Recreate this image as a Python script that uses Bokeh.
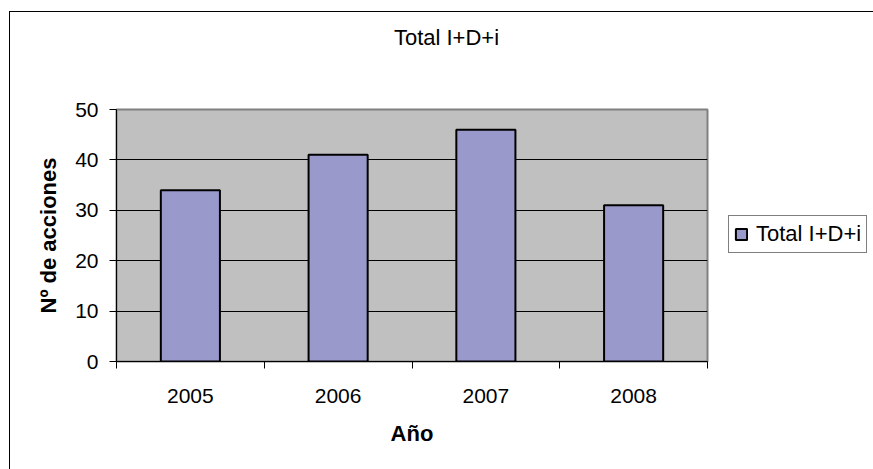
from bokeh.plotting import figure
from bokeh.models import (Range1d, FixedTicker, Legend, LegendItem, LinearAxis)
from bokeh.embed import file_html
from bokeh.resources import INLINE

# ---- data ----
categories = ["2005", "2006", "2007", "2008"]
values = [34, 41, 46, 31]
series_name = "Total I+D+i"
title_text = "Total I+D+i"
y_ticks = [0, 10, 20, 30, 40, 50]
x_label = "Año"
y_label = "Nº de acciones"

FONT = "Liberation Sans"
BAR_COLOR = "#9999CC"

xs = [i + 0.5 for i in range(len(categories))]
bounds = [float(i) for i in range(len(categories) + 1)]

p = figure(frame_width=591, frame_height=252, output_backend="svg", toolbar_location=None,
           x_range=Range1d(0, len(categories)), y_range=Range1d(0, 50),
           min_border_left=116, min_border_right=166, min_border_top=109,
           min_border_bottom=108)
# chart-area border (left and top edges, as in the reference)
p.styles = {"background": "linear-gradient(#000,#000) 9px 11px / 100% 1px no-repeat, "
                          "linear-gradient(#000,#000) 9px 11px / 1px 100% no-repeat"}

p.background_fill_color = "#C0C0C0"
p.border_fill_alpha = 0
p.outline_line_color = "#808080"
p.outline_line_width = 2

r = p.vbar(x=xs, top=values, width=0.4, fill_color=BAR_COLOR,
           line_color="black", line_width=2)

# grid
p.xgrid.grid_line_color = None
p.ygrid.ticker = FixedTicker(ticks=y_ticks)
p.ygrid.grid_line_color = "black"
p.ygrid.grid_line_width = 1

# y axis
ya = p.yaxis[0]
ya.ticker = FixedTicker(ticks=y_ticks)
ya.axis_line_color = "black"
ya.major_tick_out = 7
ya.major_tick_in = 0
ya.minor_tick_line_color = None
ya.major_label_text_font = FONT
ya.major_label_text_font_size = "21px"
ya.major_label_text_color = "black"
ya.major_label_standoff = 11
ya.axis_label = y_label
ya.axis_label_text_font = FONT
ya.axis_label_text_font_size = "22px"
ya.axis_label_text_font_style = "bold"
ya.axis_label_text_color = "black"
ya.axis_label_standoff = 11

# x axis: labels at centres, tick marks at category boundaries
xa = p.xaxis[0]
xa.ticker = FixedTicker(ticks=xs, minor_ticks=bounds)
xa.major_label_overrides = {x: c for x, c in zip(xs, categories)}
xa.major_tick_line_color = None
xa.minor_tick_line_color = "black"
xa.minor_tick_out = 7
xa.minor_tick_in = 0
xa.axis_line_color = "black"
xa.major_label_text_font = FONT
xa.major_label_text_font_size = "21px"
xa.major_label_text_color = "black"
xa.major_label_standoff = 20
xa.axis_label = x_label
xa.axis_label_text_font = FONT
xa.axis_label_text_font_size = "22px"
xa.axis_label_text_font_style = "bold"
xa.axis_label_text_color = "black"
xa.axis_label_standoff = 15

# chart title, placed in the top panel over the chart centre
p.extra_x_ranges = {"title": Range1d(0, 591)}
ta = LinearAxis(x_range_name="title", ticker=FixedTicker(ticks=[330]),
                major_label_overrides={330: title_text},
                axis_line_color=None, major_tick_line_color=None,
                minor_tick_line_color=None, major_tick_out=0, major_tick_in=0,
                major_label_standoff=60, major_label_text_font=FONT,
                major_label_text_font_size="22px", major_label_text_color="black")
p.add_layout(ta, "above")

legend = Legend(items=[LegendItem(label=series_name, renderers=[r])],
                location=(21, 108), margin=0, padding=5, spacing=0,
                glyph_width=14, glyph_height=14, label_standoff=8,
                label_text_font=FONT, label_text_font_size="22px",
                label_text_color="black",
                border_line_color="black", border_line_width=1,
                background_fill_color="white", background_fill_alpha=1)
p.add_layout(legend, "right")

open("out.html", "w").write(file_html(p, INLINE))
